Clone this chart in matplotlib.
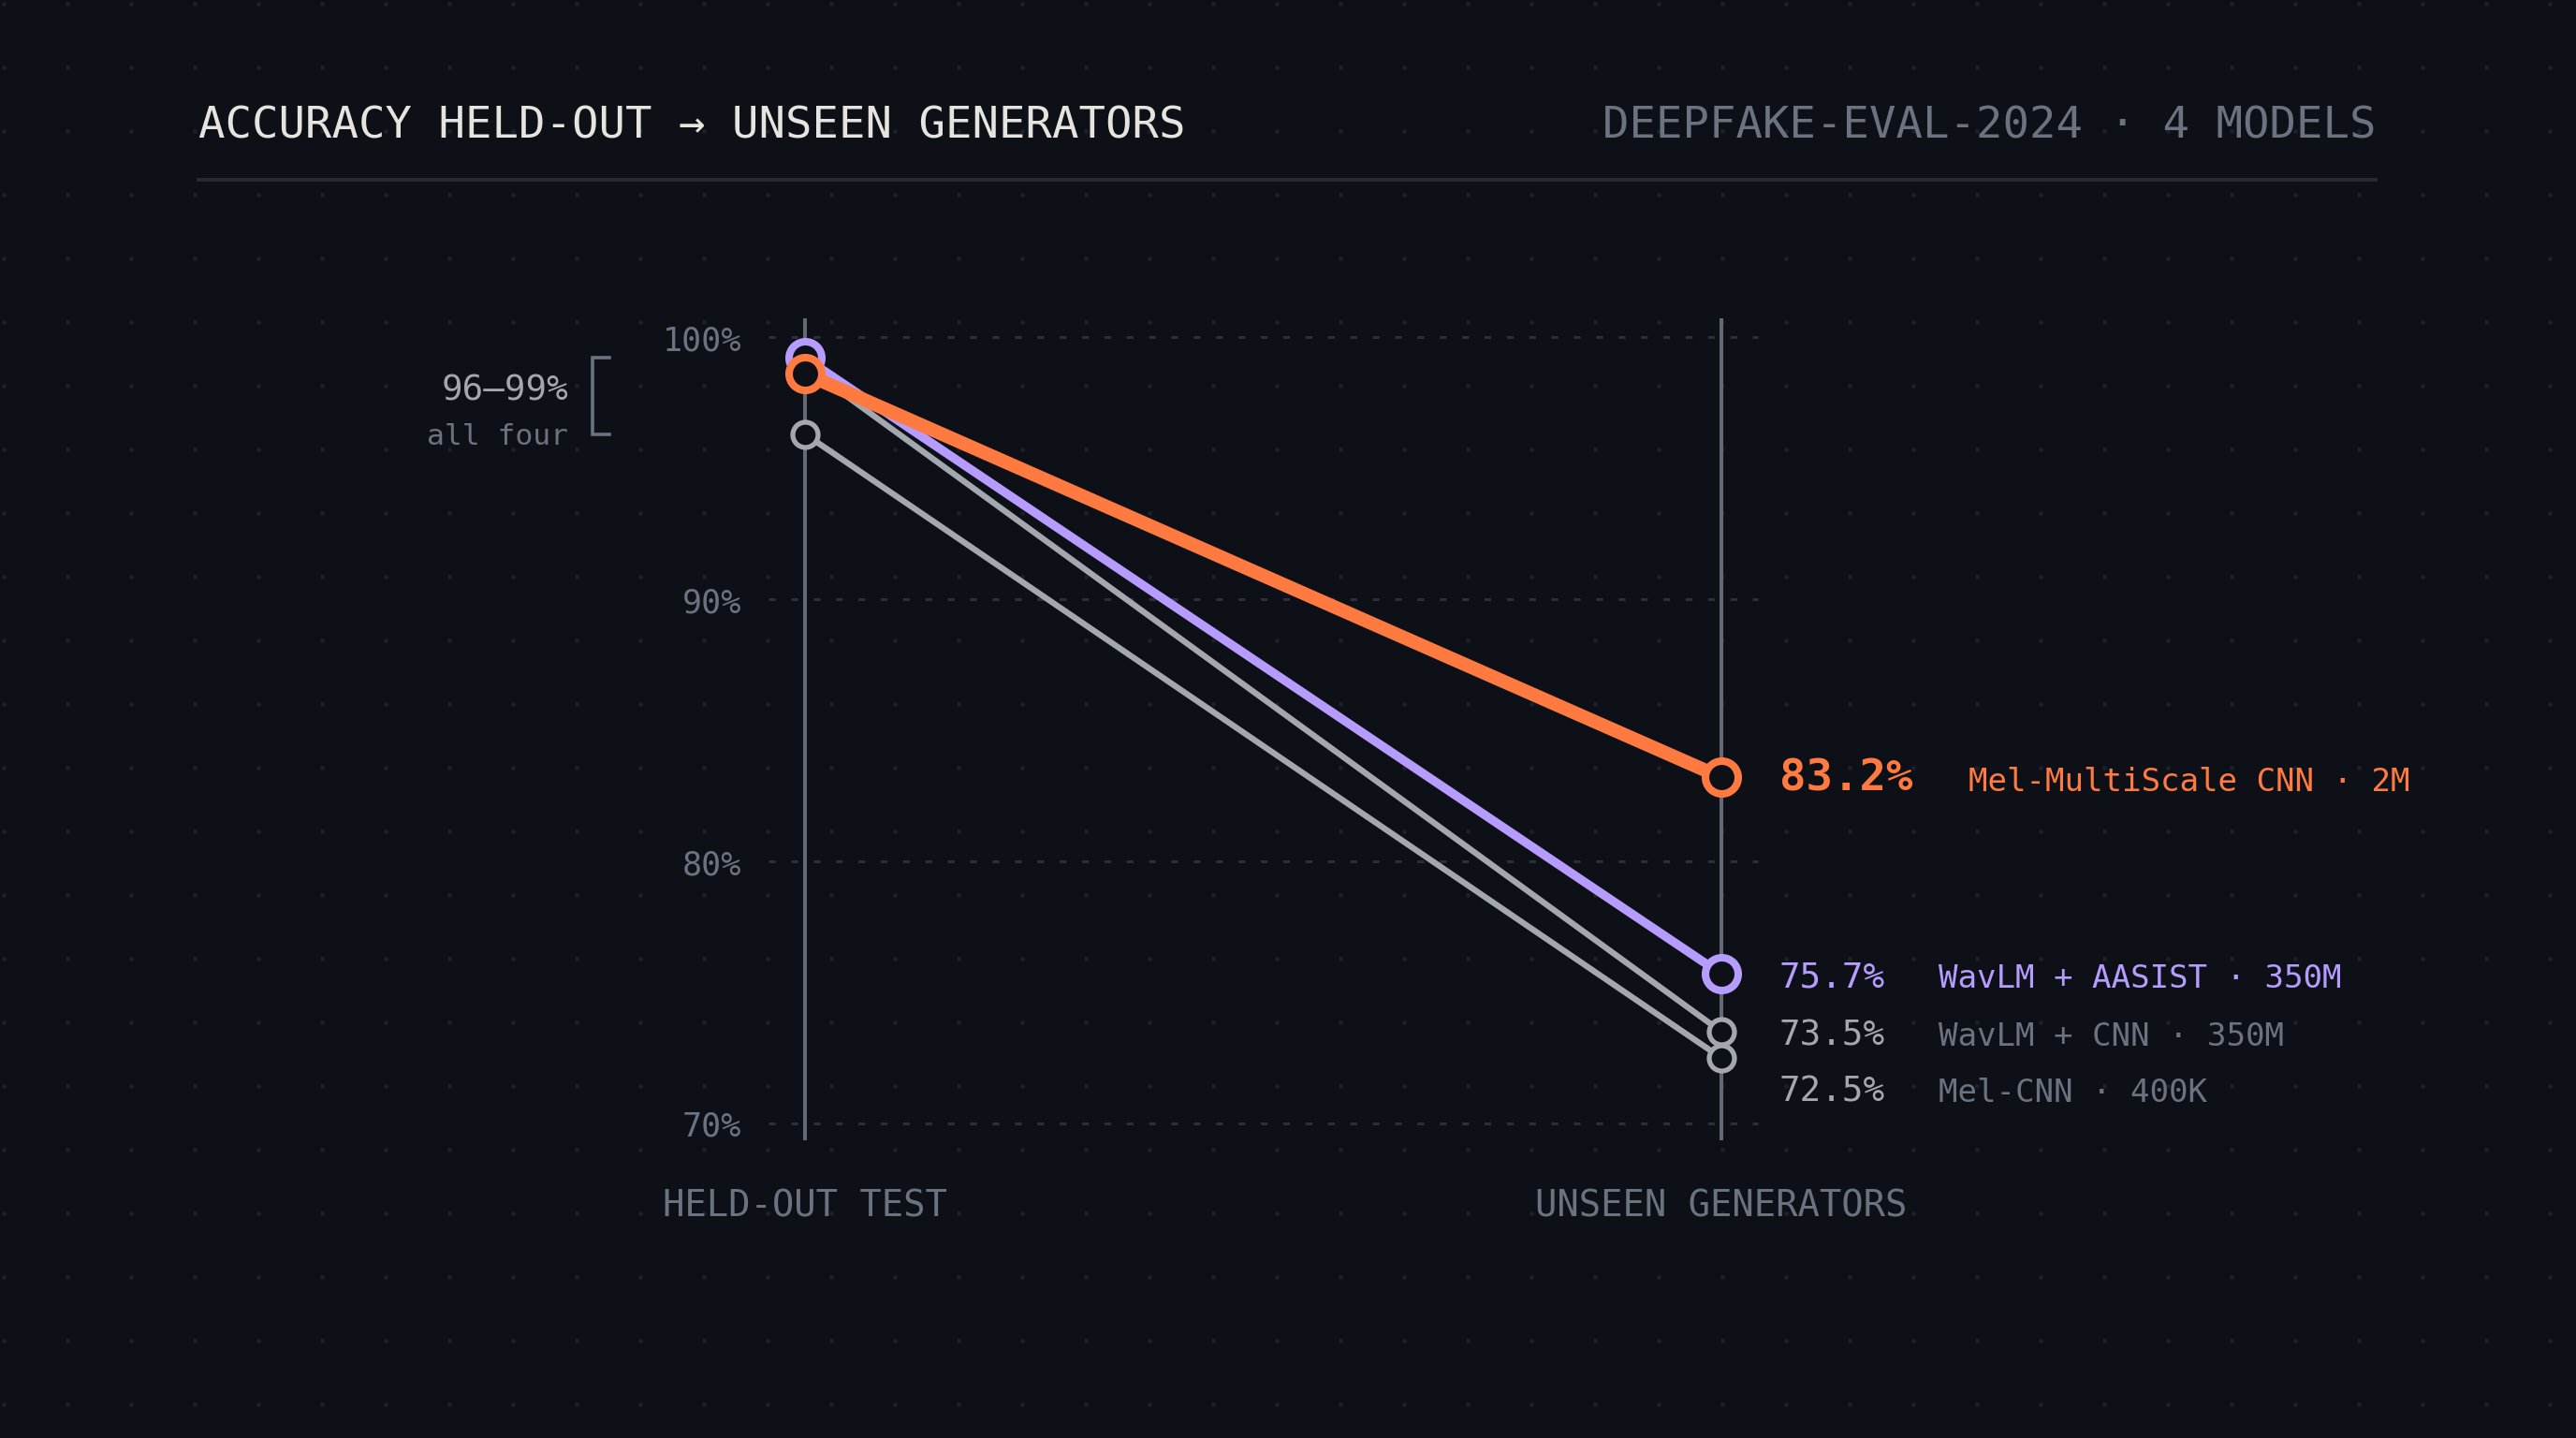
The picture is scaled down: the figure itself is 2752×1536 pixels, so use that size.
import numpy as np
import matplotlib
matplotlib.use("Agg")
import matplotlib.pyplot as plt

# dados
modelos = ["Mel-MultiScale CNN · 2M", "WavLM + AASIST · 350M", "WavLM + CNN · 350M", "Mel-CNN · 400K"]
held_out = [98.6, 99.2, 98.9, 96.3]
unseen = [83.2, 75.7, 73.5, 72.5]
etapas = ["HELD-OUT TEST", "UNSEEN GENERATORS"]
yticks = [70, 80, 90, 100]
faixa_txt = "96–99%"

# cores
BG = "#0d1016"
TITULO = "#e6e4df"
MUTED = "#6b7280"
CLARO = "#a3a8b0"
LARANJA = "#ff7a40"
ROXO = "#b69cff"
EIXO = "#646a75"
GRADE = "#2a2f3a"
PONTO = "#1c2029"

cores_linha = [LARANJA, ROXO, CLARO, CLARO]
cores_valor = [LARANJA, ROXO, CLARO, CLARO]
cores_nome = [LARANJA, ROXO, MUTED, MUTED]
larguras = [5.2, 3.4, 2.3, 2.3]
tam_marc = [12.6, 12.6, 9.7, 9.7]
borda_marc = [2.9, 2.9, 1.9, 1.9]

plt.rcParams["font.family"] = ["DejaVu Sans Mono", "DejaVu Sans"]
plt.rcParams["lines.scale_dashes"] = False

W, H, DPI = 2752, 1536, 200
fig = plt.figure(figsize=(W / DPI, H / DPI), dpi=DPI, facecolor=BG)

# fundo pontilhado
fundo = fig.add_axes([0, 0, 1, 1], zorder=0)
fundo.set_xlim(0, W)
fundo.set_ylim(H, 0)
fundo.axis("off")
gx, gy = np.meshgrid(np.arange(4, W, 68), np.arange(4, H, 68))
fundo.scatter(gx.ravel(), gy.ravel(), s=3.0, color=PONTO, linewidths=0)

# eixo principal: x=0 held-out, x=1 unseen
ax = fig.add_axes([0, 0, 1, 1], zorder=1)
ax.set_facecolor("none")
ax.set_xlim(-860 / 979, (W - 860) / 979)
ax.set_ylim(100 - (H - 360) / 28, 100 + 360 / 28)
ax.axis("off")

# grade horizontal
for t in yticks:
    ax.plot([-0.04, 1.04], [t, t], color=GRADE, lw=1.1, dashes=(2.6, 6.0), zorder=1)
    ax.text(-0.069, t - 0.5, f"{t}%", color=MUTED, fontsize=12.6, ha="right", va="baseline")

# linhas verticais das etapas
ax.vlines([0, 1], 69.35, 100.7, color=EIXO, lw=1.45, zorder=2)
for i, nome in enumerate(etapas):
    ax.text(i, 66.43, nome, color=MUTED, fontsize=14, ha="center", va="baseline")

# series (cinzas primeiro, laranja por cima)
for i in [3, 2, 1, 0]:
    ax.plot([0, 1], [held_out[i], unseen[i]], color=cores_linha[i], lw=larguras[i],
            marker="o", ms=tam_marc[i], mew=borda_marc[i], mfc=BG, mec=cores_linha[i],
            solid_capstyle="round", zorder=3 + (3 - i))

# rotulos a direita, sem sobreposicao
ordem = np.argsort(unseen)[::-1]
gap = 2.15
anterior = None
for i in ordem:
    y = unseen[i]
    if anterior is not None and anterior - y < gap:
        y = anterior - gap
    anterior = y
    if i == 0:
        ax.text(1.0633, y - 0.52, f"{unseen[i]}%", color=cores_valor[i], fontsize=17,
                fontweight="bold", ha="left", va="baseline")
        ax.text(1.2697, y - 0.52, modelos[i], color=cores_nome[i], fontsize=12.3,
                ha="left", va="baseline")
    else:
        ax.text(1.0633, y - 0.52, f"{unseen[i]}%", color=cores_valor[i], fontsize=13.5,
                ha="left", va="baseline")
        ax.text(1.237, y - 0.52, modelos[i], color=cores_nome[i], fontsize=12.3,
                ha="left", va="baseline")

# colchete 96-99%
topo, base = max(held_out), min(held_out)
meio = (topo + base) / 2
ax.plot([-0.2135, -0.232, -0.232, -0.2135], [topo, topo, base, base], color=MUTED, lw=1.3,
        solid_joinstyle="miter", zorder=2)
ax.text(-0.2584, meio - 0.15, faixa_txt, color=CLARO, fontsize=13.5, ha="right", va="baseline")
ax.text(-0.2584, meio - 1.85, "all four", color=MUTED, fontsize=11.3, ha="right", va="baseline")

# cabecalho
fig.text(212 / W, 1 - 148 / H, "ACCURACY HELD-OUT → UNSEEN GENERATORS", color=TITULO,
         fontsize=17, ha="left", va="baseline", zorder=3)
fig.text(2538 / W, 1 - 148 / H, "DEEPFAKE-EVAL-2024 · 4 MODELS", color=MUTED,
         fontsize=17, ha="right", va="baseline", zorder=3)
ax.plot([212 / W, 2538 / W], [1 - 192 / H, 1 - 192 / H], color="#262b36", lw=1.45,
        transform=fig.transFigure, zorder=2)

fig.savefig("out.png", dpi=DPI, facecolor=BG)
